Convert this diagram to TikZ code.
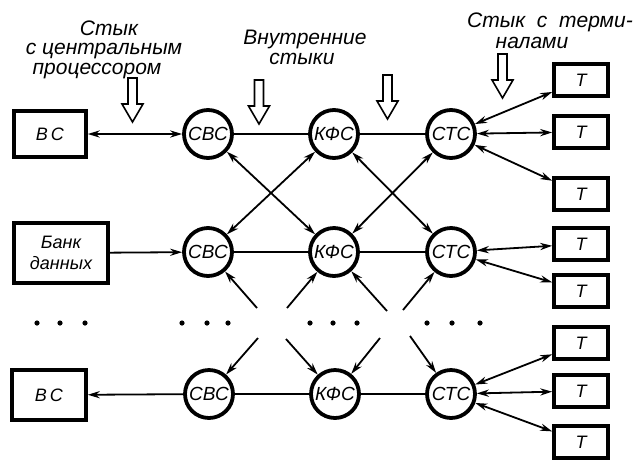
\documentclass[tikz,border=0pt]{standalone}
\usepackage{fontspec}
\setmainfont{Liberation Sans}
\usetikzlibrary{arrows.meta}

\tikzset{
  blok/.style={draw,line width=1.8pt,minimum width=36pt,minimum height=23pt,
               inner sep=1pt,align=center,
               font=\fontsize{9}{10.5}\selectfont\itshape},
  blokterm/.style={blok,minimum width=27pt,minimum height=16pt},
  uzel/.style={draw,circle,line width=1.9pt,minimum size=24pt,inner sep=0pt,
               font=\fontsize{9.5}{10}\selectfont\itshape},
  lin/.style={line width=0.9pt},
  arr/.style={lin,-{Stealth[length=6pt,width=3.6pt]}},
  darr/.style={lin,{Stealth[length=6pt,width=3.6pt]}-{Stealth[length=6pt,width=3.6pt]}},
  nadp/.style={font=\fontsize{10.5}{12}\selectfont\itshape,anchor=base,inner sep=0pt},
  ukaz/.pic={\draw[line width=0.8pt,fill=white]
     (-4.5,0) -- (4.5,0) -- (4.5,26) -- (10.5,26) -- (0,44)
     -- (-10.5,26) -- (-4.5,26) -- cycle;},
}

\begin{document}
\begin{tikzpicture}[x=0.5pt,y=-0.5pt]
  \useasboundingbox (0,0) rectangle (635,461);

  % headings
  \node[nadp] (H1a) at (109,35) {Стык};
  \node[nadp] (H1b) at (104,54) {с центральным};
  \node[nadp] (H1c) at (97,74)  {процессором};
  \node[nadp] (H2a) at (305,44) {Внутренние};
  \node[nadp] (H2b) at (302,64) {стыки};
  \node[nadp] (H3a) at (550,27) {Стык \ с \ терми-};
  \node[nadp] (H3b) at (532,48) {налами};

  % hollow pointers
  \pic (A1) at (132.5,78) {ukaz};
  \pic (A2) at (259,80)   {ukaz};
  \pic (A3) at (387.5,75) {ukaz};
  \pic (A4) at (502.5,54) {ukaz};

  % left column
  \node[blok] (VS1) at (50,134) {В\,С};
  \node[blok,minimum width=47pt,minimum height=30pt] (BD) at (61,253) {Банк\\данных};
  \node[blok,minimum width=37pt,minimum height=25pt] (VS2) at (49,395) {В\,С};

  % switching nodes
  \node[uzel] (SVS1) at (208,134) {СВС};
  \node[uzel] (KFS1) at (334,134) {КФС};
  \node[uzel] (STS1) at (451,134) {СТС};
  \node[uzel] (SVS2) at (208,252) {СВС};
  \node[uzel] (KFS2) at (334,252) {КФС};
  \node[uzel] (STS2) at (451,252) {СТС};
  \node[uzel] (SVS3) at (209,394) {СВС};
  \node[uzel] (KFS3) at (335,394) {КФС};
  \node[uzel] (STS3) at (451,394) {СТС};

  % terminals
  \node[blokterm] (T1) at (581,80)  {Т};
  \node[blokterm] (T2) at (581,132) {Т};
  \node[blokterm] (T3) at (581,194) {Т};
  \node[blokterm] (T4) at (581,244) {Т};
  \node[blokterm] (T5) at (581,291) {Т};
  \node[blokterm] (T6) at (581,343) {Т};
  \node[blokterm] (T7) at (581,391) {Т};
  \node[blokterm] (T8) at (581,442) {Т};

  % free ends around the dots
  \coordinate (c1) at (257,308);
  \coordinate (c2) at (287,308);
  \coordinate (c3) at (387,311);
  \coordinate (c4) at (403,310);
  \coordinate (d1) at (258,338);
  \coordinate (d2) at (286,339);
  \coordinate (d3) at (380,338);
  \coordinate (d4) at (410,336);

  \foreach \x in {37,60,85,182,207,228,310,333,357,427,452,480}
    \fill (\x,323) circle (2.6);

  \draw[darr] (VS1) -- (SVS1);
  \draw[lin]  (SVS1) -- (KFS1);
  \draw[lin]  (KFS1) -- (STS1);
  \draw[darr] (STS1) -- (T1);
  \draw[darr] (STS1) -- (T2);
  \draw[darr] (STS1) -- (T3);

  \draw[darr] (SVS1) -- (KFS2);
  \draw[darr] (KFS1) -- (SVS2);
  \draw[darr] (KFS1) -- (STS2);
  \draw[darr] (STS1) -- (KFS2);

  \draw[arr]  (BD) -- (SVS2);
  \draw[lin]  (SVS2) -- (KFS2);
  \draw[lin]  (KFS2) -- (STS2);
  \draw[darr] (STS2) -- (T4);
  \draw[darr] (STS2) -- (T5);

  \draw[arr] (c1) -- (SVS2);
  \draw[arr] (c2) -- (KFS2);
  \draw[arr] (c3) -- (KFS2);
  \draw[arr] (c4) -- (STS2);
  \draw[arr] (d1) -- (SVS3);
  \draw[arr] (d2) -- (KFS3);
  \draw[arr] (d3) -- (KFS3);
  \draw[arr] (d4) -- (STS3);

  \draw[arr]  (SVS3) -- (VS2);
  \draw[lin]  (SVS3) -- (KFS3);
  \draw[lin]  (KFS3) -- (STS3);
  \draw[darr] (STS3) -- (T6);
  \draw[darr] (STS3) -- (T7);
  \draw[darr] (STS3) -- (T8);
\end{tikzpicture}
\end{document}
